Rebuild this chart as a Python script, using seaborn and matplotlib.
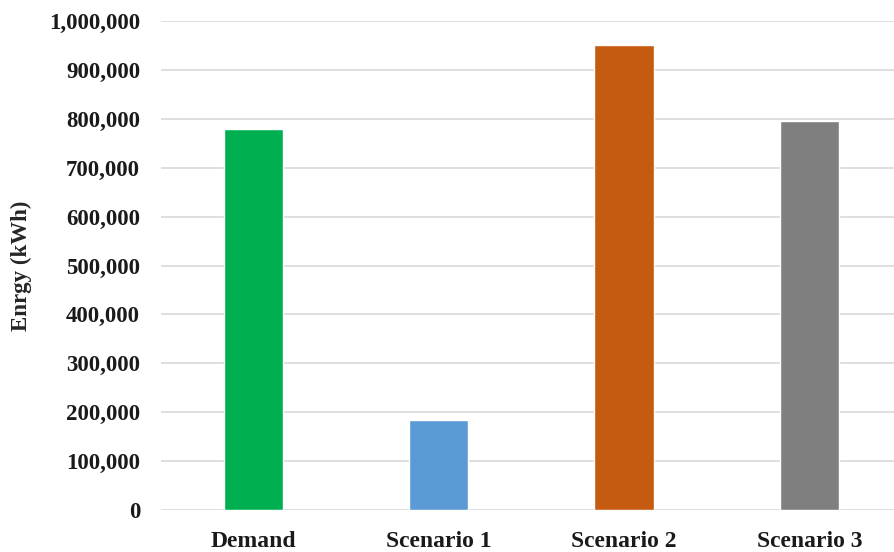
import matplotlib
matplotlib.use("Agg")
from matplotlib import ticker
import matplotlib.pyplot as plt
import seaborn as sns
import pandas as pd

categories = ["Demand", "Scenario 1", "Scenario 2", "Scenario 3"]
energy_kwh = [780000, 185000, 950000, 795000]
bar_colors = ["#00B050", "#5B9BD5", "#C55A11", "#7F7F7F"]

df = pd.DataFrame({"case": categories, "energy": energy_kwh})

sns.set_style("white")
plt.rcParams["font.family"] = ["Liberation Serif", "DejaVu Serif"]
plt.rcParams["font.weight"] = "bold"

fig = plt.figure(figsize=(8.94, 5.52), dpi=100)
fig.set_facecolor("white")
ax = fig.add_axes([0.180, 0.076, 0.829, 0.886])

sns.barplot(data=df, x="case", y="energy", hue="case", palette=bar_colors,
            saturation=1, width=0.32, legend=False, ax=ax, zorder=3)

ax.set_ylim(0, 1000000)
ax.set_xlim(-0.5, 3.5)
ax.yaxis.set_major_locator(ticker.MultipleLocator(100000))
ax.yaxis.set_major_formatter(ticker.StrMethodFormatter("{x:,.0f}"))
ax.grid(axis="y", color="#D9D9D9", linewidth=1.2, zorder=0)
for s in ax.spines.values():
    s.set_visible(False)
ax.tick_params(axis="both", length=0, colors="#1a1a1a")
ax.tick_params(axis="x", pad=15, labelsize=17)
ax.tick_params(axis="y", pad=15, labelsize=16.5)
for lbl in ax.get_xticklabels() + ax.get_yticklabels():
    lbl.set_fontweight("bold")

ax.set_xlabel("")
ax.set_ylabel("Enrgy (kWh)", fontsize=16.5, fontweight="bold", labelpad=12)

fig.savefig("out.png", dpi=100, facecolor="white")
